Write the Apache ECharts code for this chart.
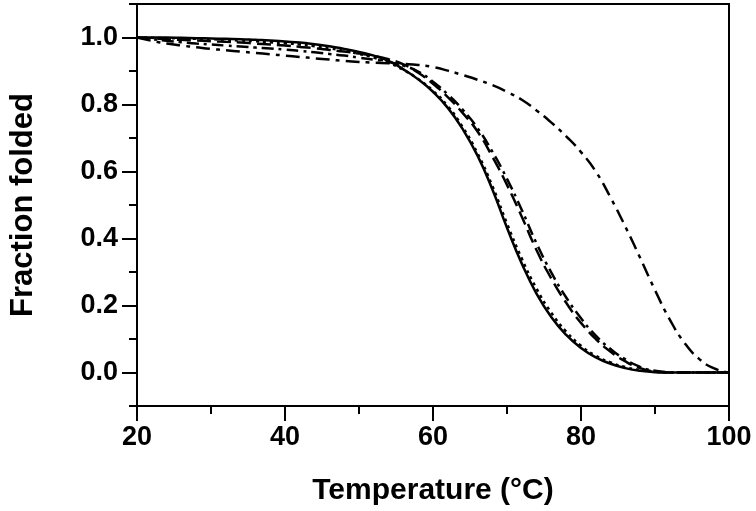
<!DOCTYPE html>
<html>
<head>
<meta charset="utf-8">
<script src="https://cdn.jsdelivr.net/npm/echarts@6/dist/echarts.min.js"></script>
<style>
html,body{margin:0;padding:0;background:#fff;}
#chart{width:756px;height:511px;}
</style>
</head>
<body>
<div id="chart"></div>
<script>
// Temperatures (°C) at which the curves were read (every 2 °C)
const temps = [20,22,24,26,28,30,32,34,36,38,40,42,44,46,48,50,52,54,56,58,60,62,64,66,68,70,72,74,76,78,80,82,84,86,88,90,92,94,96,98,100];
// Fraction folded, one array per curve
const solidCurve   = [1.000,1.000,1.000,0.999,0.998,0.997,0.996,0.995,0.993,0.991,0.988,0.985,0.980,0.974,0.966,0.957,0.946,0.930,0.905,0.875,0.838,0.790,0.727,0.648,0.548,0.432,0.325,0.235,0.165,0.112,0.073,0.045,0.026,0.013,0.005,0.001,0,0,0,0,0];
const dottedCurve  = [1.000,0.999,0.998,0.997,0.996,0.995,0.993,0.991,0.989,0.986,0.983,0.979,0.974,0.968,0.960,0.951,0.940,0.925,0.903,0.876,0.841,0.795,0.733,0.655,0.558,0.445,0.340,0.250,0.178,0.122,0.080,0.050,0.030,0.016,0.007,0.002,0,0,0,0,0];
const dashCurve    = [1.000,0.998,0.995,0.993,0.991,0.989,0.987,0.985,0.982,0.979,0.976,0.972,0.968,0.963,0.958,0.952,0.945,0.935,0.920,0.895,0.862,0.822,0.775,0.720,0.645,0.560,0.465,0.365,0.280,0.208,0.148,0.100,0.062,0.033,0.013,0.003,0,0,0,0,0];
const dashDotCurve = [1.000,0.995,0.990,0.986,0.982,0.979,0.976,0.973,0.970,0.967,0.964,0.960,0.956,0.951,0.946,0.940,0.934,0.927,0.916,0.898,0.868,0.830,0.785,0.730,0.660,0.578,0.485,0.385,0.298,0.224,0.162,0.110,0.070,0.039,0.017,0.005,0.001,0,0,0,0];
const broadCurve   = [1.000,0.990,0.982,0.976,0.971,0.966,0.962,0.958,0.954,0.950,0.946,0.942,0.938,0.934,0.930,0.927,0.925,0.923,0.921,0.918,0.912,0.901,0.888,0.874,0.858,0.838,0.814,0.782,0.746,0.705,0.658,0.600,0.522,0.435,0.342,0.246,0.158,0.088,0.040,0.012,0.000];
// Axis tick labels
const yLabelValues = [0, 0.2, 0.4, 0.6, 0.8, 1.0];
const yMinorValues = [-0.1, 0.1, 0.3, 0.5, 0.7, 0.9, 1.1];

const curves = [
  {data: solidCurve,   type: 'solid'},
  {data: dottedCurve,  type: [3,4]},
  {data: dashCurve,    type: [14,6]},
  {data: dashDotCurve, type: [12,5,3,5]},
  {data: broadCurve,   type: [14,6,4,6]}
];

const font = 'Liberation Sans, Arial, sans-serif';
const chart = echarts.init(document.getElementById('chart'), null, {renderer: 'canvas'});
chart.setOption({
  animation: false,
  backgroundColor: '#fff',
  grid: {left: 132, right: 27, top: 4, bottom: 104, show: true, borderColor: '#000', borderWidth: 2, containLabel: false},
  xAxis: {
    type: 'value', min: 20, max: 100, interval: 20,
    name: 'Temperature (°C)', nameLocation: 'middle', nameGap: 70,
    nameTextStyle: {fontFamily: font, fontWeight: 'bold', fontSize: 30, color: '#000'},
    axisLine: {show: true, onZero: false, lineStyle: {color: '#000', width: 2}},
    axisTick: {show: true, inside: false, length: 15, lineStyle: {color: '#000', width: 2}},
    minorTick: {show: true, splitNumber: 2, length: 8, lineStyle: {color: '#000', width: 2}},
    axisLabel: {margin: 18, fontFamily: font, fontWeight: 'bold', fontSize: 27, color: '#000'},
    splitLine: {show: false}
  },
  yAxis: [{
    type: 'value', min: -0.1, max: 1.1, interval: 0.1,
    name: 'Fraction folded', nameLocation: 'middle', nameGap: 98, nameRotate: 90,
    nameTextStyle: {fontFamily: font, fontWeight: 'bold', fontSize: 31, color: '#000'},
    axisLine: {show: true, onZero: false, lineStyle: {color: '#000', width: 2}},
    axisTick: {show: true, inside: false, length: 15, customValues: yLabelValues, lineStyle: {color: '#000', width: 2}},
    axisLabel: {margin: 19, customValues: yLabelValues, formatter: v => v.toFixed(1), fontFamily: font, fontWeight: 'bold', fontSize: 27, color: '#000'},
    splitLine: {show: false}
  }, {
    type: 'value', min: -0.1, max: 1.1, interval: 0.1, position: 'left',
    axisLine: {show: false},
    axisTick: {show: true, inside: false, length: 8, customValues: yMinorValues, lineStyle: {color: '#000', width: 2}},
    axisLabel: {show: false},
    splitLine: {show: false}
  }],
  series: curves.map(c => ({
    type: 'line', smooth: true, symbol: 'none', yAxisIndex: 0,
    data: temps.map((t, i) => [t, c.data[i]]),
    lineStyle: {color: '#000', width: 2.5, type: c.type}
  }))
});
</script>
</body>
</html>
